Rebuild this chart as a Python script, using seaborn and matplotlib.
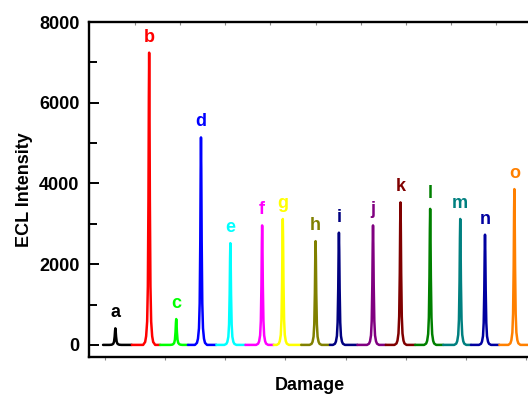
import numpy as np
import pandas as pd
import matplotlib
matplotlib.use('Agg')
import matplotlib.pyplot as plt
import seaborn as sns

sns.set_style('ticks', {'axes.edgecolor': 'black', 'text.color': 'black',
                        'axes.labelcolor': 'black', 'xtick.color': 'black',
                        'ytick.color': 'black'})
plt.rcParams['font.family'] = ['Liberation Sans', 'DejaVu Sans']
plt.rcParams['font.weight'] = 'bold'

# samples a..o, peak position (damage axis, arbitrary units) and ECL peak height
labels = list('abcdefghijklmno')
peak_x = [26.3, 60.0, 87.0, 111.7, 141.0, 172.7, 193.3, 226.0, 249.3, 283.3,
          310.7, 340.3, 370.3, 395.0, 424.3]
heights = [410, 7240, 640, 5140, 2520, 2960, 3120, 2570, 2780, 2960,
           3530, 3370, 3120, 2730, 3860]
# each trace is recorded on its own stretch of the axis
seg_edges = [14.0, 42.7, 71.0, 98.7, 127.0, 156.0, 184.3, 211.7, 240.3, 267.7,
             296.0, 325.3, 353.3, 381.0, 409.3, 440.0]
colors = ['#000000', '#FF0000', '#00FF00', '#0000FF', '#00FFFF', '#FF00FF',
          '#FFFF00', '#808000', '#000080', '#800080', '#800000', '#008000',
          '#008080', '#0000A0', '#FF8000']

# peak profile (offset from peak, fraction of height)
prof_dx = [-6.0, -4.0, -3.0, -2.0, -1.3, -0.7, -0.3, 0.0, 0.3, 0.7, 1.3, 2.0, 3.0, 4.0, 6.0]
prof_f = [0.0, 0.01, 0.03, 0.08, 0.2, 0.5, 0.85, 1.0, 0.85, 0.5, 0.2, 0.08, 0.03, 0.01, 0.0]

rows = []
for i, lab in enumerate(labels):
    xs = [seg_edges[i]] + [peak_x[i] + d for d in prof_dx] + [seg_edges[i + 1]]
    ys = [0.0] + [heights[i] * f for f in prof_f] + [0.0]
    for k, (x, y) in enumerate(zip(xs, ys)):
        rows.append({'x': x, 'y': y, 'sample': lab, 'order': k})
df = pd.DataFrame(rows)

fig = plt.figure(figsize=(5.28, 3.94), dpi=100)
ax = fig.add_axes([89 / 528, 1 - 357 / 394, 1 - 89 / 528 + 0.004, (357 - 22) / 394])

sns.lineplot(data=df, x='x', y='y', hue='sample', palette=colors, sort=False,
             estimator=None, units='sample', legend=False, linewidth=1.8, ax=ax)

for i, lab in enumerate(labels):
    ax.annotate(lab, (peak_x[i], heights[i]), xytext=(0, 5), textcoords='offset points',
                ha='center', va='bottom', color=colors[i], fontsize=13, fontweight='bold')

ax.set_xlim(0, 440)
ax.set_ylim(-300, 8000)
ax.set_yticks([0, 2000, 4000, 6000, 8000])
ax.set_yticks([1000, 3000, 5000, 7000], minor=True)
ax.set_xticks([16, 76, 136, 196, 256, 316, 376, 436])
ax.set_xticklabels([])
ax.tick_params(axis='y', which='major', direction='in', length=7, width=1.4, labelsize=13, pad=7)
ax.tick_params(axis='y', which='minor', direction='in', length=6, width=1.4)
ax.tick_params(axis='x', which='major', direction='out', length=2, width=0.8, color='#888888')
for t in ax.get_yticklabels():
    t.set_fontweight('bold')

top = ax.secondary_xaxis('top')
top.set_xticks([46, 91, 136, 181, 226, 271, 316, 361, 406])
top.set_xticklabels([])
top.tick_params(direction='in', length=2, width=0.8, color='#888888')
top.spines['top'].set_visible(False)

for s in ['left', 'bottom', 'top']:
    ax.spines[s].set_linewidth(1.7)
    ax.spines[s].set_color('black')
ax.spines['right'].set_visible(False)

ax.set_xlabel('Damage', fontsize=13, fontweight='bold', labelpad=9)
ax.set_ylabel('ECL Intensity', fontsize=13, fontweight='bold', labelpad=4)

plt.savefig('out.png', dpi=100)
